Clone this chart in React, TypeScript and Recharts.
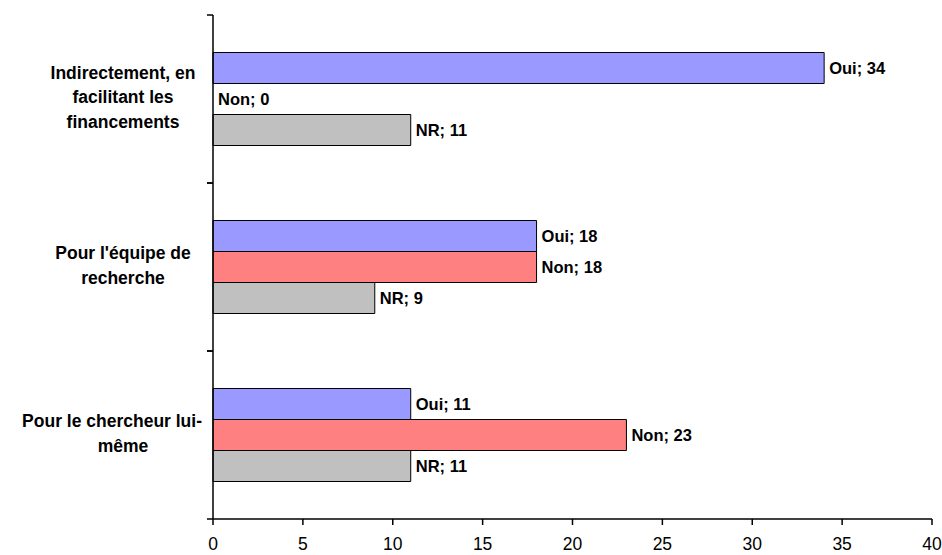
import React from "react";
import { BarChart, Bar, XAxis, YAxis, LabelList, Cell } from "recharts";

// categories, top to bottom
const categories = [
  "Indirectement, en facilitant les financements",
  "Pour l'équipe de recherche",
  "Pour le chercheur lui-même",
];
const categoryLines = [
  ["Indirectement, en", "facilitant les", "financements"],
  ["Pour l'équipe de", "recherche"],
  ["Pour le chercheur lui-", "même"],
];
const oui = [34, 18, 11];
const non = [0, 18, 23];
const nr = [11, 9, 11];
const xTicks = [0, 5, 10, 15, 20, 25, 30, 35, 40];

const data = categories.map((c, i) => ({ cat: c, oui: oui[i], non: non[i], nr: nr[i] }));

const FONT = "'Liberation Sans', Arial, sans-serif";
const TOP = 15;
const BOTTOM_AXIS = 519;
const AXIS_X = 213;
const BAND = (BOTTOM_AXIS - TOP) / categories.length;

const CategoryTick = (props: any) => {
  const { y, payload } = props;
  const idx = categories.indexOf(payload.value);
  const lines = categoryLines[idx] || [payload.value];
  const lh = 24.5;
  const startY = y - 2 - ((lines.length - 1) * lh) / 2;
  const y0 = y - BAND / 2;
  const y1 = y + BAND / 2;
  return (
    <g>
      {/* axis segment + tick marks on the category boundaries */}
      <line x1={AXIS_X} x2={AXIS_X} y1={y0} y2={y1} stroke="#000" strokeWidth={1.5} />
      <line x1={AXIS_X - 6} x2={AXIS_X} y1={y0} y2={y0} stroke="#000" strokeWidth={1.5} />
      <line x1={AXIS_X - 6} x2={AXIS_X} y1={y1} y2={y1} stroke="#000" strokeWidth={1.5} />
      {lines.map((l, i) => {
        const long = l.length > 20;
        return (
          <text
            key={i}
            x={long ? 202 : 123}
            y={startY + i * lh}
            dy="0.36em"
            textAnchor={long ? "end" : "middle"}
            fontFamily={FONT}
            fontWeight="bold"
            fontSize={17.5}
            fill="#000"
          >
            {l}
          </text>
        );
      })}
    </g>
  );
};

const labelStyle = { fontFamily: FONT, fontWeight: "bold" as const, fontSize: 16.5, fill: "#000" };

const series = [
  { key: "oui", name: "Oui", color: "#9999FF", values: oui },
  { key: "non", name: "Non", color: "#FF8080", values: non },
  { key: "nr", name: "NR", color: "#C0C0C0", values: nr },
];

export default function App() {
  return (
    <div style={{ position: "absolute", left: 0, top: 0, background: "#fff" }}>
      <BarChart
        width={942}
        height={555}
        data={data}
        layout="vertical"
        margin={{ top: TOP, right: 10, bottom: 6, left: 0 }}
        barCategoryGap={37.5}
        barGap={0}
      >
        <XAxis
          type="number"
          domain={[0, 40]}
          ticks={xTicks}
          tickSize={6}
          tickMargin={13}
          axisLine={{ stroke: "#000", strokeWidth: 1.5 }}
          tickLine={{ stroke: "#000", strokeWidth: 1.5 }}
          tick={{ fill: "#000", fontSize: 17.5, fontFamily: FONT }}
          height={30}
        />
        <YAxis
          type="category"
          dataKey="cat"
          width={AXIS_X}
          axisLine={false}
          tickLine={false}
          tick={<CategoryTick />}
          interval={0}
        />
        {series.map((s) => (
          <Bar
            key={s.key}
            dataKey={s.key}
            fill={s.color}
            stroke="#000"
            strokeWidth={1}
            minPointSize={0.01}
            isAnimationActive={false}
          >
            {s.values.map((v, i) => (
              <Cell key={i} stroke={v === 0 ? "none" : "#000"} />
            ))}
            <LabelList
              dataKey={s.key}
              position="right"
              offset={5}
              formatter={(v: any) => `${s.name}; ${v}`}
              style={labelStyle}
            />
          </Bar>
        ))}
      </BarChart>
    </div>
  );
}
